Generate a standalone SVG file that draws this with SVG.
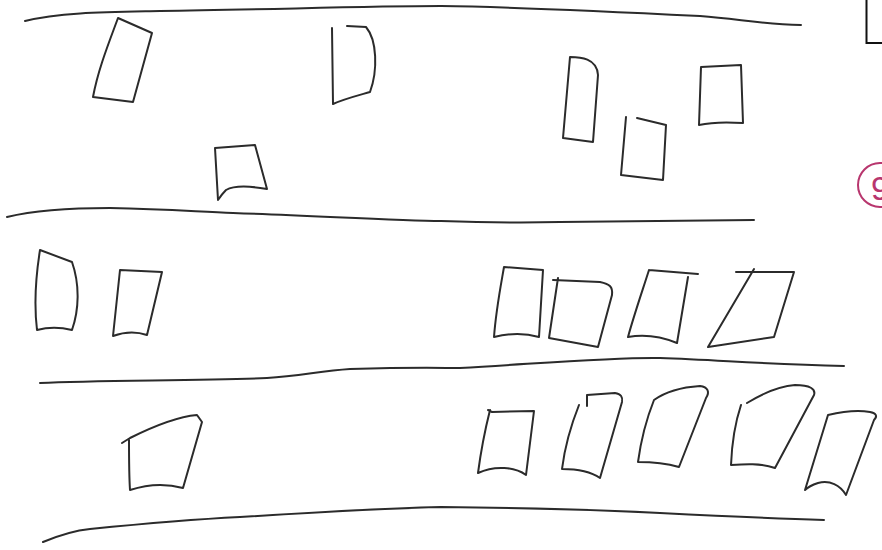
<svg xmlns="http://www.w3.org/2000/svg" width="882" height="550" viewBox="0 0 882 550">
<style>
.s{fill:none;stroke:#2b2b2b;stroke-width:2;stroke-linecap:round;stroke-linejoin:round}
.r{fill:none;stroke:#b8366e;stroke-width:2}
</style>
<rect width="882" height="550" fill="#ffffff"/>
<g id="lines">
<path class="s" d="M25,21 C60,12 110,12 160,11 C260,10 360,6 441,6 C520,7 600,11 700,16 C740,19 760,24 801,25"/>
<path class="s" d="M7,217 C40,209 80,208 110,208 C170,209 200,212 233,213 C320,216 400,221 441,221 C500,223 520,223 560,222 C640,221 700,220 754,220"/>
<path class="s" d="M40,383 C100,380 200,381 267,378 C300,376 320,371 350,369 C420,367 440,368 460,368 C560,362 620,357 660,358 C720,360 760,364 844,366"/>
<path class="s" d="M43,542 C55,537 70,531 90,529 C150,523 200,519 240,517 C320,512 400,508 441,507 C520,508 600,510 660,513 C740,517 790,519 824,520"/>
</g>
<g id="row1">
<path class="s" d="M118,18 L152,33 L133,102 L93,97 C98,70 108,45 118,18 Z"/>
<path class="s" d="M347,26 L366,27 C377,40 378,70 370,92 C356,96 344,99 333,104 L332,28"/>
<path class="s" d="M215,148 L255,145 L267,189 C250,186 235,185 226,190 C222,194 220,197 218,200 Z"/>
<path class="s" d="M570,57 C580,57 597,58 598,75 L593,142 L563,138 Z"/>
<path class="s" d="M626,117 L621,175 L663,180 L666,125 L637,118"/>
<path class="s" d="M701,67 L741,65 L743,123 C728,122 712,122 699,125 Z"/>
</g>
<g id="row2">
<path class="s" d="M40,250 L72,262 C80,285 79,310 72,330 C60,327 48,327 37,330 C34,305 36,275 40,250 Z"/>
<path class="s" d="M120,270 L162,272 L147,335 C135,331 124,332 113,336 Z"/>
<path class="s" d="M504,267 L543,270 L539,337 C525,333 510,333 494,337 C496,310 500,290 504,267 Z"/>
<path class="s" d="M553,280 L600,282 C610,284 613,287 612,295 L598,347 L549,338 L558,278"/>
<path class="s" d="M649,270 L698,274 M688,277 L677,343 C660,336 645,334 628,337 C634,315 642,292 649,270"/>
<path class="s" d="M736,272 L794,272 L774,337 L708,347 L754,269"/>
</g>
<g id="row3">
<path class="s" d="M122,443 L130,438 C150,428 175,417 197,415 L202,422 L183,488 C165,483 148,484 130,490 C129,475 129,458 129,440"/>
<path class="s" d="M488,410 L492,412 L534,411 L526,475 C515,467 495,465 478,473 C481,450 485,430 490,410"/>
<path class="s" d="M587,406 L587,395 L615,393 C621,394 623,397 622,402 L600,478 C590,471 575,469 562,469 C565,445 571,425 579,405"/>
<path class="s" d="M654,400 C668,390 685,387 700,386 C708,387 710,392 706,398 L679,467 C665,463 652,462 638,462 C641,440 646,420 654,400"/>
<path class="s" d="M747,403 C765,392 780,386 795,385 C810,385 816,389 814,395 L775,468 C760,463 745,464 731,465 C732,440 736,420 741,405"/>
<path class="s" d="M828,415 C845,411 858,410 870,412 C876,413 878,416 874,420 L846,495 C840,485 830,480 818,483 C812,485 808,487 805,490 Z"/>
</g>
<g id="corner">
<path d="M866.5,0 L866.5,43 L882,43" fill="none" stroke="#111" stroke-width="2"/>
<ellipse class="r" cx="880" cy="185" rx="22" ry="22"/>
<text x="871" y="200" font-family="Liberation Sans, sans-serif" font-size="33" fill="#b8366e">9</text>
</g>
</svg>
